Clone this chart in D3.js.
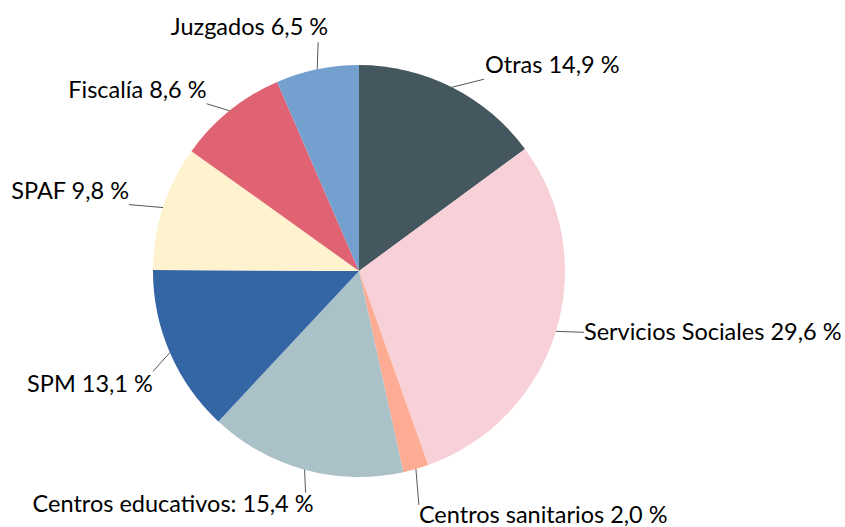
<!DOCTYPE html>
<html>
<head>
<meta charset="utf-8">
<script src="https://cdn.jsdelivr.net/npm/d3@7"></script>
<style>
  body { margin: 0; background: #fff; }
  svg { display: block; }
  text { font-family: Lato, "Open Sans", sans-serif; fill: #000; }
</style>
</head>
<body>
<div id="chart"></div>
<script>
// data
var categories = ["Otras", "Servicios Sociales", "Centros sanitarios", "Centros educativos",
	"SPM", "SPAF", "Fiscalía", "Juzgados"];
var values = [14.9, 29.6, 2.0, 15.4, 13.1, 9.8, 8.6, 6.5];
var labels = ["Otras 14,9 %", "Servicios Sociales 29,6 %", "Centros sanitarios 2,0 %",
	"Centros educativos: 15,4 %", "SPM 13,1 %", "SPAF 9,8 %", "Fiscalía 8,6 %", "Juzgados 6,5 %"];
var colors = ["#44575f", "#f7d1d7", "#fdab93", "#aac1c8", "#3465a5", "#fff3cf", "#e06373", "#74a0d0"];

// label layout: end of leader line relative to slice edge, and text anchor relative to that end
var labelLayout = [
	{lx: 32, ly: -8, anchor: "start", tx: 1, ty: -6},
	{lx: 28, ly: 1, anchor: "start", tx: 0, ty: 8},
	{lx: 3, ly: 36, anchor: "start", tx: 0, ty: 18},
	{lx: 1, ly: 23, anchor: "end", tx: 8, ty: 19},
	{lx: -17, ly: 19, anchor: "end", tx: 0, ty: 20},
	{lx: -34, ly: -3, anchor: "end", tx: 0, ty: -6},
	{lx: -23, ly: -7, anchor: "end", tx: 0, ty: -6},
	{lx: 1, ly: -27, anchor: "end", tx: 10, ty: -7}
];

var width = 845, height = 527;
var cx = 359, cy = 271, radius = 206;

var svg = d3.select("#chart").append("svg")
	.attr("width", width)
	.attr("height", height);

var g = svg.append("g")
	.attr("transform", "translate(" + cx + "," + cy + ")");

var pie = d3.pie().sort(null).value(function(d) { return d; });
var arc = d3.arc().innerRadius(0).outerRadius(radius);
var arcs = pie(values);

g.selectAll("path.slice")
	.data(arcs)
	.enter().append("path")
		.attr("class", "slice")
		.attr("d", arc)
		.attr("fill", function(d, i) { return colors[i]; });

function edgePoint(d) {
	var a = (d.startAngle + d.endAngle) / 2;
	return [radius * Math.sin(a), -radius * Math.cos(a)];
}

var lab = g.selectAll("g.label")
	.data(arcs)
	.enter().append("g")
		.attr("class", "label");

lab.append("line")
	.attr("x1", function(d) { return edgePoint(d)[0]; })
	.attr("y1", function(d) { return edgePoint(d)[1]; })
	.attr("x2", function(d, i) { return edgePoint(d)[0] + labelLayout[i].lx; })
	.attr("y2", function(d, i) { return edgePoint(d)[1] + labelLayout[i].ly; })
	.attr("stroke", "#595959")
	.attr("stroke-width", 1);

lab.append("text")
	.attr("x", function(d, i) { return edgePoint(d)[0] + labelLayout[i].lx + labelLayout[i].tx; })
	.attr("y", function(d, i) { return edgePoint(d)[1] + labelLayout[i].ly + labelLayout[i].ty; })
	.attr("text-anchor", function(d, i) { return labelLayout[i].anchor; })
	.style("font-size", "23.5px")
	.text(function(d, i) { return labels[i]; });
</script>
</body>
</html>
